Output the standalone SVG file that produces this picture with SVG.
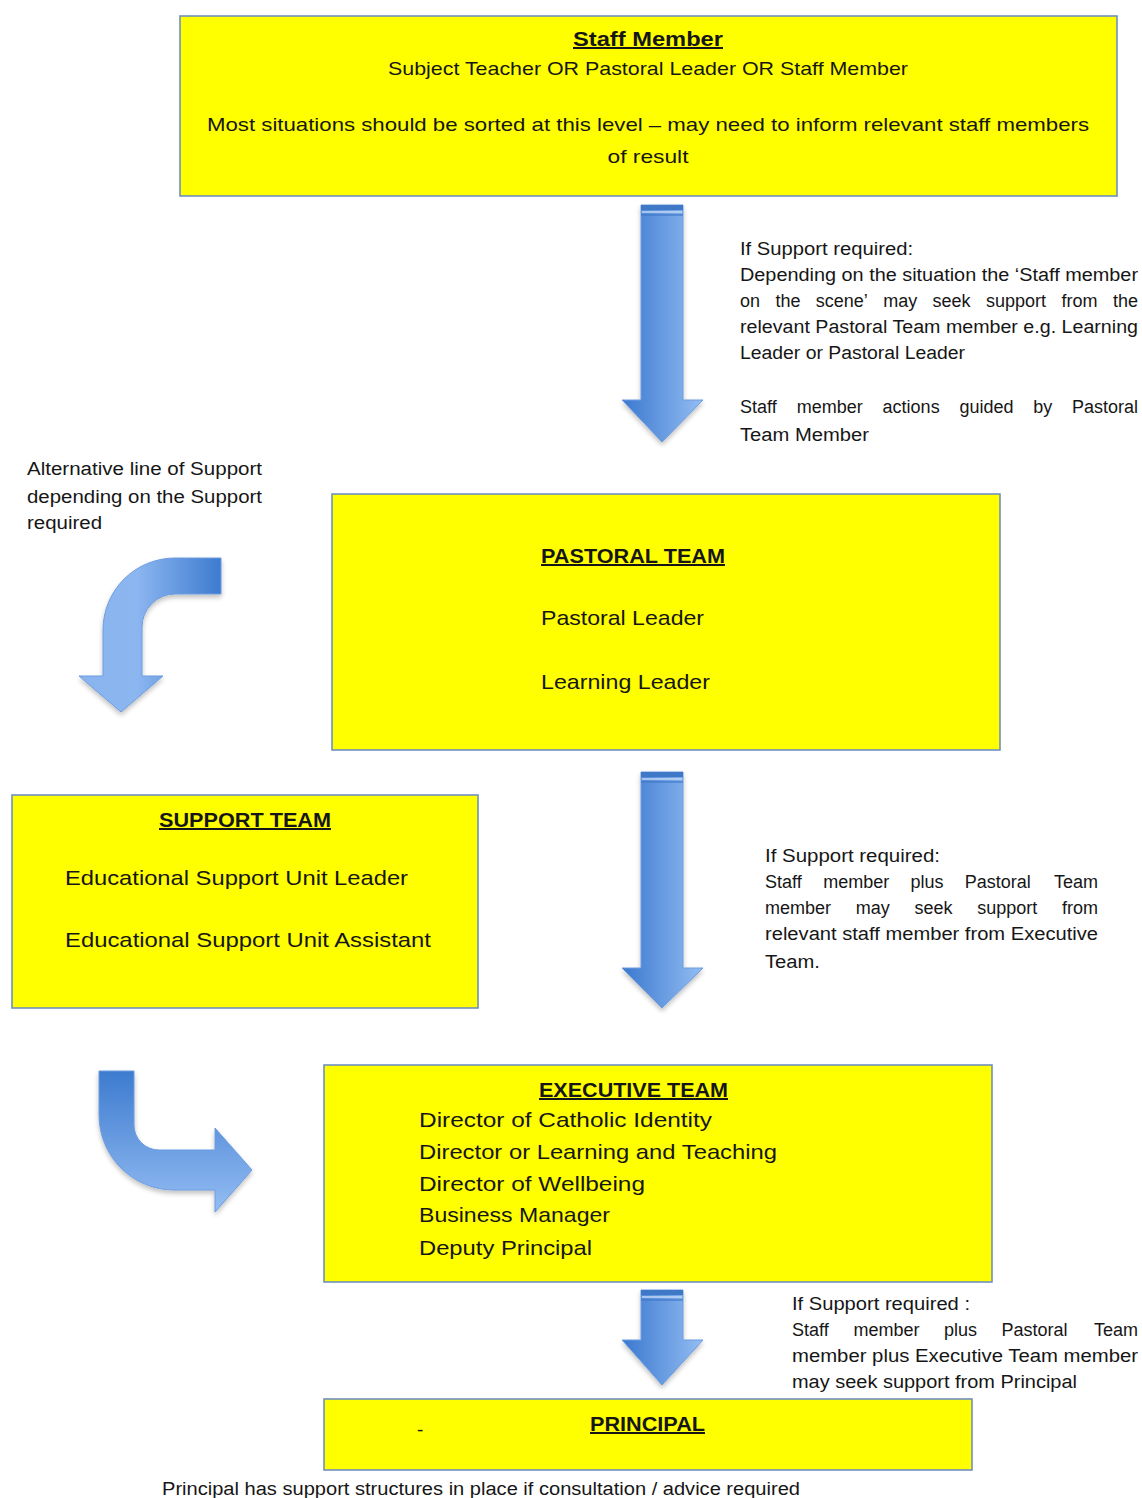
<svg xmlns="http://www.w3.org/2000/svg" width="1142" height="1498" viewBox="0 0 1142 1498">
<style>
.box{fill:#ffff00;stroke:#6f8fbf;stroke-width:1.6}
text{font-family:"Liberation Sans",Arial,sans-serif;fill:#161616}
.t{font-size:19px}
.h{font-size:20px;font-weight:bold;text-decoration:underline}
.b{font-size:21px}
.n{font-size:18px}
.e{text-anchor:end}
.arr{stroke:#6c9ce0;stroke-width:1}
.band{fill:#3f78c8}
.line{stroke:#c4d8f4;stroke-width:1.5}
</style>
<defs>
<linearGradient id="gh" x1="0" y1="0" x2="1" y2="0">
<stop offset="0" stop-color="#3a78cf"/>
<stop offset="1" stop-color="#94bdf3"/>
</linearGradient>
<linearGradient id="gc1" gradientUnits="userSpaceOnUse" x1="221" y1="0" x2="80" y2="0">
<stop offset="0" stop-color="#3d7bcf"/>
<stop offset="0.6" stop-color="#8cb6f0"/>
<stop offset="1" stop-color="#8ab4ee"/>
</linearGradient>
<linearGradient id="gc2" gradientUnits="userSpaceOnUse" x1="0" y1="1071" x2="0" y2="1212">
<stop offset="0" stop-color="#3d7bcf"/>
<stop offset="1" stop-color="#94bdf3"/>
</linearGradient>
<filter id="sh" x="-20%" y="-10%" width="140%" height="130%">
<feGaussianBlur in="SourceAlpha" stdDeviation="2.5"/>
<feOffset dx="0" dy="3" result="b"/>
<feComponentTransfer><feFuncA type="linear" slope="0.25"/></feComponentTransfer>
<feMerge><feMergeNode/><feMergeNode in="SourceGraphic"/></feMerge>
</filter>
</defs>

<g id="connectors">
<g id="arrow1" filter="url(#sh)">
<path class="arr" fill="url(#gh)" d="M641,205 L683,205 L683,400 L703,400 L662,442 L622,400 L641,400 Z"/>
<rect class="band" x="641" y="205" width="42" height="5"/>
<line class="line" x1="642" y1="212" x2="682" y2="212"/>
<rect class="band" x="641" y="214" width="42" height="2" opacity="0.6"/>
</g>
<g id="arrow2" filter="url(#sh)">
<path class="arr" fill="url(#gh)" d="M641,772 L683,772 L683,968 L703,968 L662,1008 L622,968 L641,968 Z"/>
<rect class="band" x="641" y="772" width="42" height="5"/>
<line class="line" x1="642" y1="779" x2="682" y2="779"/>
<rect class="band" x="641" y="781" width="42" height="2" opacity="0.6"/>
</g>
<g id="arrow3" filter="url(#sh)">
<path class="arr" fill="url(#gh)" d="M641,1290 L683,1290 L683,1340 L703,1340 L662,1385 L622,1340 L641,1340 Z"/>
<rect class="band" x="641" y="1290" width="42" height="5"/>
<line class="line" x1="642" y1="1297" x2="682" y2="1297"/>
<rect class="band" x="641" y="1299" width="42" height="2" opacity="0.6"/>
</g>
<g id="curved1" filter="url(#sh)">
<path class="arr" fill="url(#gc1)" d="M221,558 L175,558 A72,72 0 0 0 103,630 L103,676 L79,676 L121,712 L163,676 L142,676 L142,627 A33,33 0 0 1 175,594 L221,594 Z"/>
</g>
<g id="curved2" filter="url(#sh)">
<path class="arr" fill="url(#gc2)" d="M99,1071 L134,1071 L134,1125 A25,25 0 0 0 159,1150 L215,1150 L215,1128 L252,1170 L215,1212 L215,1190 L174,1190 A75,75 0 0 1 99,1115 Z"/>
</g>
</g>

<g id="staff-member">
<rect class="box" x="180" y="16" width="937" height="180"/>
<text class="h" x="648" y="46" text-anchor="middle" textLength="150" lengthAdjust="spacingAndGlyphs">Staff Member</text>
<text class="t" x="648" y="75" text-anchor="middle" textLength="520" lengthAdjust="spacingAndGlyphs">Subject Teacher OR Pastoral Leader OR Staff Member</text>
<text class="t" x="207" y="131" textLength="882" lengthAdjust="spacingAndGlyphs">Most situations should be sorted at this level – may need to inform relevant staff members</text>
<text class="t" x="648" y="163" text-anchor="middle" textLength="81" lengthAdjust="spacingAndGlyphs">of result</text>
</g>

<g id="note1">
<text class="n" x="740" y="255" textLength="173" lengthAdjust="spacingAndGlyphs">If Support required:</text>
<text class="n" x="740" y="281" textLength="398" lengthAdjust="spacingAndGlyphs">Depending on the situation the ‘Staff member</text>
<text class="n" y="307"><tspan x="740">on</tspan><tspan x="775.4">the</tspan><tspan x="815.8">scene’</tspan><tspan x="883.2">may</tspan><tspan x="932.6">seek</tspan><tspan x="986">support</tspan><tspan x="1061.4">from</tspan><tspan class="e" x="1138">the</tspan></text>
<text class="n" x="740" y="333" textLength="398" lengthAdjust="spacingAndGlyphs">relevant Pastoral Team member e.g. Learning</text>
<text class="n" x="740" y="359" textLength="225" lengthAdjust="spacingAndGlyphs">Leader or Pastoral Leader</text>
<text class="n" y="413"><tspan x="740">Staff</tspan><tspan x="796.8">member</tspan><tspan x="882.6">actions</tspan><tspan x="959.4">guided</tspan><tspan x="1033.2">by</tspan><tspan class="e" x="1138">Pastoral</tspan></text>
<text class="n" x="740" y="441" textLength="129" lengthAdjust="spacingAndGlyphs">Team Member</text>
</g>

<g id="note-alt">
<text class="n" x="27" y="475" textLength="235" lengthAdjust="spacingAndGlyphs">Alternative line of Support</text>
<text class="n" x="27" y="503" textLength="235" lengthAdjust="spacingAndGlyphs">depending on the Support</text>
<text class="n" x="27" y="529" textLength="75" lengthAdjust="spacingAndGlyphs">required</text>
</g>

<g id="pastoral-team">
<rect class="box" x="332" y="494" width="668" height="256"/>
<text class="h" x="541" y="563" textLength="184" lengthAdjust="spacingAndGlyphs">PASTORAL TEAM</text>
<text class="b" x="541" y="625" textLength="163" lengthAdjust="spacingAndGlyphs">Pastoral Leader</text>
<text class="b" x="541" y="689" textLength="169" lengthAdjust="spacingAndGlyphs">Learning Leader</text>
</g>

<g id="note2">
<text class="n" x="765" y="862" textLength="175" lengthAdjust="spacingAndGlyphs">If Support required:</text>
<text class="n" y="888"><tspan x="765">Staff</tspan><tspan x="823.3">member</tspan><tspan x="910.5">plus</tspan><tspan x="964.8">Pastoral</tspan><tspan class="e" x="1098">Team</tspan></text>
<text class="n" y="914"><tspan x="765">member</tspan><tspan x="855.8">may</tspan><tspan x="914.5">seek</tspan><tspan x="977.3">support</tspan><tspan class="e" x="1098">from</tspan></text>
<text class="n" x="765" y="940" textLength="333" lengthAdjust="spacingAndGlyphs">relevant staff member from Executive</text>
<text class="n" x="765" y="968" textLength="55" lengthAdjust="spacingAndGlyphs">Team.</text>
</g>

<g id="support-team">
<rect class="box" x="12" y="795" width="466" height="213"/>
<text class="h" x="159" y="827" textLength="172" lengthAdjust="spacingAndGlyphs">SUPPORT TEAM</text>
<text class="b" x="65" y="885" textLength="343" lengthAdjust="spacingAndGlyphs">Educational Support Unit Leader</text>
<text class="b" x="65" y="947" textLength="366" lengthAdjust="spacingAndGlyphs">Educational Support Unit Assistant</text>
</g>

<g id="executive-team">
<rect class="box" x="324" y="1065" width="668" height="217"/>
<text class="h" x="539" y="1097" textLength="189" lengthAdjust="spacingAndGlyphs">EXECUTIVE TEAM</text>
<text class="b" x="419" y="1127" textLength="293" lengthAdjust="spacingAndGlyphs">Director of Catholic Identity</text>
<text class="b" x="419" y="1159" textLength="358" lengthAdjust="spacingAndGlyphs">Director or Learning and Teaching</text>
<text class="b" x="419" y="1191" textLength="226" lengthAdjust="spacingAndGlyphs">Director of Wellbeing</text>
<text class="b" x="419" y="1222" textLength="191" lengthAdjust="spacingAndGlyphs">Business Manager</text>
<text class="b" x="419" y="1255" textLength="173" lengthAdjust="spacingAndGlyphs">Deputy Principal</text>
</g>

<g id="note3">
<text class="n" x="792" y="1310" textLength="178" lengthAdjust="spacingAndGlyphs">If Support required :</text>
<text class="n" y="1336"><tspan x="792">Staff</tspan><tspan x="853.5">member</tspan><tspan x="944">plus</tspan><tspan x="1001.5">Pastoral</tspan><tspan class="e" x="1138">Team</tspan></text>
<text class="n" x="792" y="1362" textLength="346" lengthAdjust="spacingAndGlyphs">member plus Executive Team member</text>
<text class="n" x="792" y="1388" textLength="285" lengthAdjust="spacingAndGlyphs">may seek support from Principal</text>
</g>

<g id="principal">
<rect class="box" x="324" y="1399" width="648" height="71"/>
<text class="h" x="590" y="1431" textLength="115" lengthAdjust="spacingAndGlyphs">PRINCIPAL</text>
<text class="t" x="417" y="1436">-</text>
</g>

<g id="note-bottom">
<text class="n" x="162" y="1495" textLength="638" lengthAdjust="spacingAndGlyphs">Principal has support structures in place if consultation / advice required</text>
</g>
</svg>
